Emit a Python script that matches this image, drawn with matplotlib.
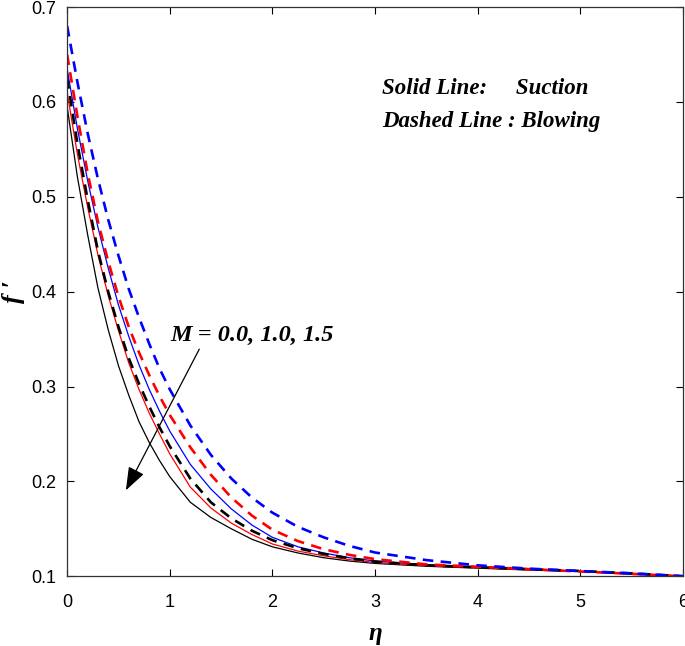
import matplotlib
matplotlib.use("Agg")
import matplotlib.pyplot as plt
import numpy as np

# eta grid
eta = [0, 0.1, 0.2, 0.3, 0.4, 0.5, 0.6, 0.7, 0.8, 0.9, 1.0, 1.2, 1.4, 1.6, 1.8, 2.0,
       2.25, 2.5, 2.75, 3.0, 3.5, 4.0, 4.5, 5.0, 5.5, 6.0]

# solid = suction, dashed = blowing
suct_black = [0.595, 0.521, 0.460, 0.404, 0.360, 0.322, 0.291, 0.263, 0.241, 0.222, 0.205, 0.178, 0.162, 0.150, 0.139, 0.131,
              0.1245, 0.1195, 0.116, 0.1135, 0.1105, 0.1085, 0.1065, 0.105, 0.1025, 0.100]
suct_red   = [0.610, 0.545, 0.489, 0.439, 0.396, 0.359, 0.325, 0.297, 0.272, 0.250, 0.229, 0.194, 0.172, 0.156, 0.144, 0.134,
              0.1265, 0.1215, 0.1175, 0.1145, 0.111, 0.109, 0.107, 0.105, 0.1025, 0.100]
suct_blue  = [0.635, 0.572, 0.517, 0.468, 0.425, 0.386, 0.353, 0.323, 0.297, 0.274, 0.253, 0.218, 0.192, 0.171, 0.154, 0.141,
              0.131, 0.1245, 0.1195, 0.116, 0.112, 0.1095, 0.1075, 0.105, 0.1025, 0.100]
blow_black = [0.625, 0.556, 0.497, 0.443, 0.400, 0.363, 0.330, 0.303, 0.279, 0.257, 0.237, 0.203, 0.178, 0.161, 0.148, 0.138,
              0.1295, 0.1235, 0.119, 0.1155, 0.1115, 0.1095, 0.1075, 0.1055, 0.103, 0.100]
blow_red   = [0.650, 0.585, 0.525, 0.474, 0.432, 0.395, 0.363, 0.336, 0.312, 0.290, 0.270, 0.236, 0.207, 0.183, 0.164, 0.149,
              0.137, 0.1285, 0.1225, 0.118, 0.1125, 0.110, 0.1075, 0.105, 0.1025, 0.100]
blow_blue  = [0.680, 0.621, 0.567, 0.519, 0.476, 0.438, 0.403, 0.373, 0.345, 0.319, 0.297, 0.259, 0.228, 0.203, 0.183, 0.167,
              0.152, 0.141, 0.132, 0.125, 0.117, 0.1115, 0.108, 0.1055, 0.103, 0.100]

serif = ["Liberation Serif", "DejaVu Serif"]
plt.rcParams["font.family"] = ["Liberation Sans", "DejaVu Sans"]

fig = plt.figure(figsize=(6.85, 6.46), dpi=100)
ax = fig.add_axes([0.098, 0.108, 0.899, 0.881])

ax.plot(eta, suct_black, color="black", lw=0.9)
ax.plot(eta, suct_red, color="red", lw=0.9)
ax.plot(eta, suct_blue, color="blue", lw=0.9)
ax.plot(eta, blow_black, color="black", lw=1.9, dashes=(4, 2.8))
ax.plot(eta, blow_red, color="red", lw=1.9, dashes=(4, 2.8))
ax.plot(eta, blow_blue, color="blue", lw=1.9, dashes=(4, 2.8))

ax.set_xlim(0, 6)
ax.set_ylim(0.1, 0.7)
ax.set_xticks(np.arange(0, 7, 1))
ax.set_yticks(np.arange(0.1, 0.71, 0.1))
ax.set_yticklabels(["0.1", "0.2", "0.3", "0.4", "0.5", "0.6", "0.7"])
ax.tick_params(direction="in", top=True, right=True, length=5, width=0.8, labelsize=13)
ax.tick_params(axis="x", pad=13)
ax.tick_params(axis="y", pad=8)
for s in ax.spines.values():
    s.set_linewidth(0.9)
    s.set_color("#333333")

ax.set_xlabel("η", family=serif, style="italic", weight="bold", fontsize=18, labelpad=8)
ax.set_ylabel("f ′", family=serif, style="italic", weight="bold", fontsize=19, labelpad=4)

# annotation arrow and label
ax.annotate("", xy=(0.56, 0.188), xytext=(1.30, 0.342),
            arrowprops=dict(arrowstyle="-|>,head_length=0.65,head_width=0.24",
                            color="black", lw=0.9, mutation_scale=22))
ax.text(1.01, 0.343, "M = 0.0, 1.0, 1.5", family=serif, style="italic",
        weight="bold", fontsize=17.5, va="bottom", ha="left")

ax.text(3.07, 0.614, "Solid Line:     Suction", family=serif, style="italic",
        weight="bold", fontsize=16.5, va="center", ha="left")
ax.text(3.07, 0.579, "Dashed Line : Blowing", family=serif, style="italic",
        weight="bold", fontsize=16.5, va="center", ha="left")

fig.savefig("out.png", dpi=100)
